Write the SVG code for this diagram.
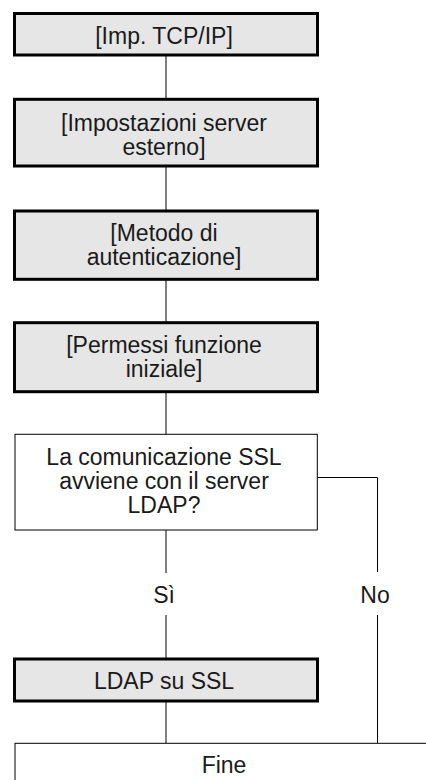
<svg xmlns="http://www.w3.org/2000/svg" width="426" height="780" viewBox="0 0 426 780">
<style>
.step{fill:#e6e6e6;stroke:#000;stroke-width:3}
.plain{fill:#fff;stroke:#000;stroke-width:1}
.t{font-family:"Liberation Sans",Arial,sans-serif;font-size:23px;fill:#1a1a1a;text-anchor:middle}
.c{fill:none;stroke:#000;stroke-width:1}
</style>
<rect width="426" height="780" fill="#fff"/>
<g id="connectors">
<path class="c" d="M166 55V99M166 166V211M166 279V323M166 392V434M166 530V573M166 615V659M166 701V743"/>
<path class="c" d="M317 477.5H377.5V572M377.5 615V743"/>
</g>
<g id="n1"><rect class="step" x="14.5" y="13.5" width="303" height="41.5"/><text class="t" x="164" y="43.5">[Imp. TCP/IP]</text></g>
<g id="n2"><rect class="step" x="14.5" y="99.3" width="303" height="66.7"/><text class="t" x="164" y="131">[Impostazioni server</text><text class="t" x="164" y="155">esterno]</text></g>
<g id="n3"><rect class="step" x="14.5" y="211" width="303" height="68.3"/><text class="t" x="164" y="240.5">[Metodo di</text><text class="t" x="164" y="264.5">autenticazione]</text></g>
<g id="n4"><rect class="step" x="14.5" y="322.7" width="303" height="69"/><text class="t" x="164" y="353">[Permessi funzione</text><text class="t" x="164" y="377">iniziale]</text></g>
<g id="n5"><rect class="plain" x="15" y="434.3" width="302.3" height="95.7"/><text class="t" x="164" y="465">La comunicazione SSL</text><text class="t" x="164" y="489">avviene con il server</text><text class="t" x="164" y="513">LDAP?</text></g>
<g id="lbl-si"><text class="t" x="164" y="602.5">Sì</text></g>
<g id="lbl-no"><text class="t" x="375" y="602.5">No</text></g>
<g id="n6"><rect class="step" x="14.5" y="659" width="303" height="42"/><text class="t" x="164" y="689">LDAP su SSL</text></g>
<g id="n7"><rect class="plain" x="15" y="743.3" width="420" height="60"/><text class="t" x="224" y="773">Fine</text></g>
</svg>
